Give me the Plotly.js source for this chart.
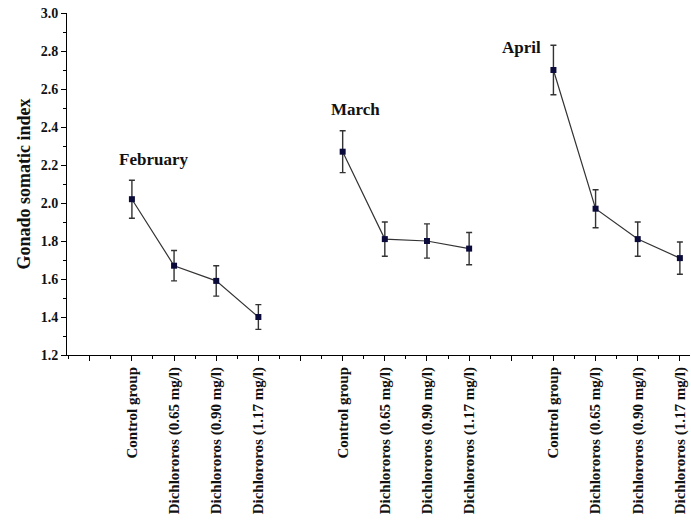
<!DOCTYPE html>
<html>
<head>
<meta charset="utf-8">
<script src="https://cdn.plot.ly/plotly-3.0.1.min.js"></script>
<style>html,body{margin:0;padding:0;background:#fff;}#chart{width:691px;height:521px;}</style>
</head>
<body>
<div id="chart"></div>
<script>
var categories = ['Control group', 'Dichlororos (0.65 mg/l)', 'Dichlororos (0.90 mg/l)', 'Dichlororos (1.17 mg/l)'];
var months = ['February', 'March', 'April'];
var febValues = [2.02, 1.67, 1.59, 1.40];
var febErrors = [0.10, 0.08, 0.08, 0.065];
var marValues = [2.27, 1.81, 1.80, 1.76];
var marErrors = [0.11, 0.09, 0.09, 0.085];
var aprValues = [2.70, 1.97, 1.81, 1.71];
var aprErrors = [0.13, 0.10, 0.09, 0.085];
var yTickLabels = ['1.2', '1.4', '1.6', '1.8', '2.0', '2.2', '2.4', '2.6', '2.8', '3.0'];

var series = [febValues, marValues, aprValues];
var errors = [febErrors, marErrors, aprErrors];
var labelPos = [[0.65, 2.23], [5.67, 2.49], [9.73, 2.82]];

var serif = 'Liberation Serif, Times New Roman, serif';
var traces = [];
var tickvals = [], ticktext = [];
for (var g = 0; g < 3; g++) {
  var xs = [];
  tickvals.push(g * 5); ticktext.push('');
  for (var i = 0; i < categories.length; i++) {
    xs.push(g * 5 + 1 + i);
    tickvals.push(g * 5 + 1 + i);
    ticktext.push(categories[i]);
  }
  traces.push({
    type: 'scatter', mode: 'lines+markers',
    x: xs, y: series[g], name: months[g],
    line: {color: '#333333', width: 1.2},
    marker: {symbol: 'square', size: 6, color: '#0b0b3b'},
    error_y: {type: 'data', array: errors[g], visible: true, color: '#333333', thickness: 1.4, width: 3}
  });
}

var annotations = months.map(function (m, k) {
  return {x: labelPos[k][0], y: labelPos[k][1], xref: 'x', yref: 'y', text: m,
    showarrow: false, xanchor: 'left', yanchor: 'middle',
    font: {family: serif, size: 17, color: '#111', weight: 'bold'}};
});

var layout = {
  width: 691, height: 521,
  margin: {l: 67, r: 1, t: 13, b: 166},
  paper_bgcolor: '#fff', plot_bgcolor: '#fff',
  showlegend: false,
  xaxis: {
    range: [-0.54, 14.24], tickmode: 'array', tickvals: tickvals, ticktext: ticktext,
    tickangle: -90, ticks: 'outside', ticklen: 5, tickcolor: '#000', tickwidth: 1,
    minor: {ticks: 'outside', tick0: 0.5, dtick: 1, ticklen: 3, tickcolor: '#000'},
    showline: true, linecolor: '#000', linewidth: 1, showgrid: false, zeroline: false,
    tickfont: {family: serif, size: 15, color: '#111', weight: 'bold'}
  },
  yaxis: {
    range: [1.2, 3.0], tickmode: 'array',
    tickvals: yTickLabels.map(Number), ticktext: yTickLabels,
    ticks: 'outside', ticklen: 5, tickcolor: '#000', tickwidth: 1,
    minor: {ticks: 'outside', dtick: 0.1, ticklen: 3, tickcolor: '#000'},
    showline: true, linecolor: '#000', linewidth: 1, showgrid: false, zeroline: false,
    tickfont: {family: serif, size: 14, color: '#111', weight: 'bold'},
    title: {text: 'Gonado somatic index', font: {family: serif, size: 18, color: '#111', weight: 'bold'}, standoff: 5}
  },
  annotations: annotations
};

Plotly.newPlot('chart', traces, layout, {displayModeBar: false, staticPlot: true});
</script>
</body>
</html>
